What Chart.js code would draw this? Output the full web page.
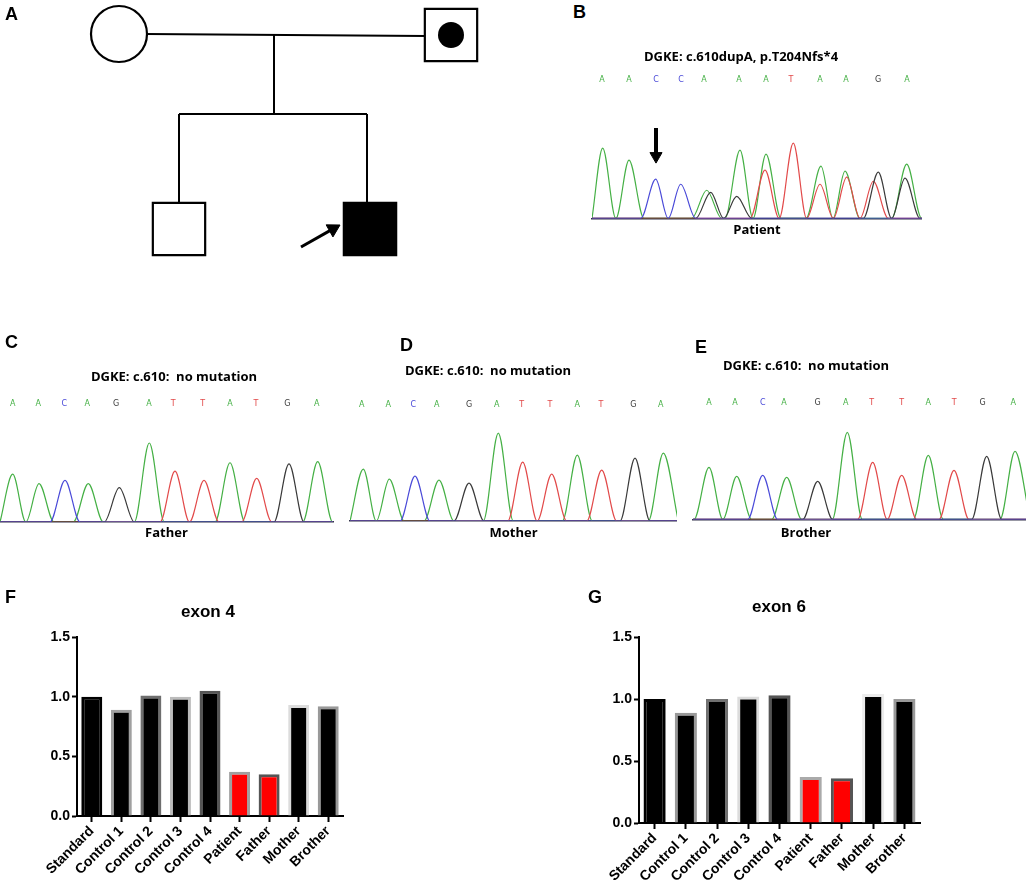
<!DOCTYPE html>
<html lang="en">
<head>
<meta charset="UTF-8">
<title>DGKE c.610dupA - pedigree, Sanger traces and exon dosage</title>
<script src="https://cdn.jsdelivr.net/npm/chart.js"></script>
<style>
  body { margin: 0; background: #fff; }
  #page { position: relative; width: 1026px; height: 893px; overflow: hidden; background: #fff; }
  #page canvas { position: absolute; }
  .tag { position: absolute; font: bold 18px "Liberation Sans", Arial, sans-serif; line-height: 18px; color: #000; }
</style>
</head>
<body>
<div id="page">
  <canvas id="pedigree" width="520" height="290" style="left:0;top:0"></canvas>
  <canvas id="traceB" width="362" height="193" style="left:560px;top:45px"></canvas>
  <canvas id="traceC" width="348" height="176" style="left:0;top:365px"></canvas>
  <canvas id="traceD" width="378" height="181" style="left:299px;top:360px"></canvas>
  <canvas id="traceE" width="440" height="186" style="left:586px;top:355px"></canvas>
  <canvas id="exon4" width="416" height="295" style="left:0;top:598px"></canvas>
  <canvas id="exon6" width="398" height="300" style="left:580px;top:593px"></canvas>

  <div class="tag" style="left:5px;top:5px">A</div>
  <div class="tag" style="left:573px;top:3px">B</div>
  <div class="tag" style="left:5px;top:333px">C</div>
  <div class="tag" style="left:400px;top:336px">D</div>
  <div class="tag" style="left:695px;top:338px">E</div>
  <div class="tag" style="left:5px;top:588px">F</div>
  <div class="tag" style="left:588px;top:588px">G</div>
</div>

<script>
// ---------- A: pedigree (layout units) ----------
const memberNames = ['Mother', 'Father', 'Brother', 'Patient'];
const memberX = [119, 451, 179, 370];
const memberY = [34, 35, 229, 229];
const memberShape = ['circle', 'rect', 'rect', 'rect'];
const memberAffected = [false, false, false, true];
const memberCarrier = [false, true, false, false];
const pedigreeLines = [
    [[146, 34], [426, 36]],   // couple
    [[274, 34], [274, 114]],  // line of descent
    [[179, 114], [367, 114]], // sibship
    [[179, 114], [179, 203]],
    [[367, 114], [367, 203]]
];
const probandArrow = [[301, 247], [340, 225]]; // tail, tip

// ---------- B-E: Sanger traces (scan position, signal) ----------
const refBases = ['A', 'A', 'C', 'A', 'G', 'A', 'T', 'T', 'A', 'T', 'G', 'A'];

const patientBases = ['A', 'A', 'C', 'C', 'A', 'A', 'A', 'T', 'A', 'A', 'G', 'A'];
const patientCalls = [10, 37, 64, 89, 112, 147, 174, 199, 228, 254, 286, 315];
const patientA = [[10.7, 70], [37, 58], [114.7, 28], [148, 68], [174, 64], [229, 52], [253, 47], [314.7, 54]];
const patientC = [[63.7, 39], [88.7, 34]];
const patientG = [[118.7, 26], [144.7, 22], [286.3, 46], [313, 40]];
const patientT = [[173, 48], [201.3, 75], [228, 34], [254.7, 41], [281.3, 37]];
const patientArrow = [64, 90, 55]; // position, top, tip

const fatherCalls = [12.7, 38.3, 64.3, 87.3, 116, 149, 173.3, 202.7, 230, 256, 287.3, 316.7];
const fatherA = [[12.7, 46], [39, 37], [88.3, 37], [149.3, 76], [230, 57], [317.7, 58]];
const fatherC = [[65, 40]];
const fatherG = [[119.3, 33], [289, 56]];
const fatherT = [[175, 49], [204, 40], [256.7, 42]];

const motherCalls = [11.7, 38.3, 63.3, 86.7, 119, 146.7, 171.7, 200, 227.3, 251, 283.3, 310.7];
const motherA = [[13.3, 52], [39.3, 42], [89, 41], [148.3, 88], [227.3, 66], [313.3, 68]];
const motherC = [[65, 45]];
const motherG = [[119, 38], [285, 63]];
const motherT = [[172.7, 59], [201.7, 47], [251.7, 51]];

const brotherCalls = [16, 42, 69.7, 91, 124.7, 152.7, 178.7, 208.7, 235.3, 261.3, 289.7, 320.3];
const brotherA = [[16, 52], [43.7, 43], [93.7, 42], [154.3, 87], [235.3, 64], [322, 68]];
const brotherC = [[69.7, 44]];
const brotherG = [[124.7, 38], [293.7, 63]];
const brotherT = [[179.7, 57], [208.7, 44], [261, 49]];

// ---------- F, G: relative copy number ----------
const samples = ['Standard', 'Control 1', 'Control 2', 'Control 3', 'Control 4', 'Patient', 'Father', 'Mother', 'Brother'];
const exon4Ratio = [1.00, 0.89, 1.01, 1.00, 1.05, 0.37, 0.35, 0.93, 0.92];
const exon6Ratio = [1.00, 0.89, 1.00, 1.02, 1.03, 0.37, 0.36, 1.04, 1.00];

// styles
const baseColor = { A: '#45b045', C: '#4a4ad8', G: '#3a3a3a', T: '#e24a4a' };
const barFill = ['#000', '#000', '#000', '#000', '#000', '#ff0000', '#ff0000', '#000', '#000'];
const exon4Edge = ['#000', '#a0a0a0', '#6e6e6e', '#bcbcbc', '#555', '#a0a0a0', '#555', '#dcdcdc', '#999'];
const exon6Edge = ['#000', '#999', '#707070', '#dcdcdc', '#555', '#aaa', '#555', '#ececec', '#999'];

Chart.defaults.font.family = '"Liberation Sans", Arial, sans-serif';
Chart.defaults.color = '#000';

function spacer(position, width) {
    return {
        type: 'linear', position: position, display: true,
        ticks: { display: false },
        grid: { display: false, drawTicks: false },
        border: { display: false },
        afterFit: s => { s.width = width; }
    };
}

// ---------- pedigree ----------
function drawPedigree() {
    const datasets = [];
    const r = 8;
    const [tail, tip] = probandArrow;
    const dx = tip[0] - tail[0], dy = tip[1] - tail[1];
    const len = Math.hypot(dx, dy);
    const head = { x: tip[0] - r * dx / len, y: tip[1] - r * dy / len };

    datasets.push({
        data: memberCarrier.map((c, i) => c ? { x: memberX[i], y: memberY[i] } : null).filter(Boolean),
        pointStyle: 'circle', pointRadius: 13,
        pointBackgroundColor: '#000', pointBorderWidth: 0, order: 0
    });
    datasets.push({
        label: 'members',
        data: memberX.map((x, i) => ({ x: x, y: memberY[i] })),
        pointStyle: memberShape,
        pointRadius: memberShape.map(s => s === 'circle' ? 28 : 37),
        pointBackgroundColor: memberAffected.map(a => a ? '#000' : '#fff'),
        pointBorderColor: '#000', pointBorderWidth: 2.2, order: 1
    });
    datasets.push({
        data: [head], pointStyle: 'triangle', pointRadius: r,
        pointRotation: Math.atan2(dx, -dy) * 180 / Math.PI,
        pointBackgroundColor: '#000', pointBorderColor: '#000', pointBorderWidth: 1, order: 0
    });
    datasets.push({
        data: [{ x: tail[0], y: tail[1] }, head],
        showLine: true, borderColor: '#000', borderWidth: 3, pointRadius: 0, order: 2
    });
    pedigreeLines.forEach(seg => {
        datasets.push({
            data: seg.map(p => ({ x: p[0], y: p[1] })),
            showLine: true, borderColor: '#000', borderWidth: 2, pointRadius: 0, order: 2
        });
    });

    new Chart(document.getElementById('pedigree'), {
        type: 'scatter',
        data: { datasets: datasets },
        options: {
            responsive: false, animation: false, events: [],
            layout: { padding: 0, autoPadding: false },
            clip: false,
            plugins: { legend: { display: false }, tooltip: { enabled: false } },
            scales: {
                x: { type: 'linear', min: 0, max: 520, display: false },
                y: { type: 'linear', min: 0, max: 290, reverse: true, display: false }
            }
        }
    });
}

// ---------- chromatograms ----------
function peakPoints(peaks, xMax, halfWidth) {
    const sorted = peaks.slice().sort((a, b) => a[0] - b[0]);
    const pts = [{ x: 0, y: 0 }];
    let lastX = 0;
    const add = (x, y) => {
        if (x > lastX) { pts.push({ x: x, y: y }); lastX = x; }
    };
    sorted.forEach(([p, h], i) => {
        const prev = i > 0 ? sorted[i - 1][0] : -Infinity;
        const next = i < sorted.length - 1 ? sorted[i + 1][0] : Infinity;
        add(Math.max(p - halfWidth, (prev + p) / 2), 0);
        add(p, h);
        add(Math.min(p + halfWidth, (p + next) / 2), 0);
    });
    add(xMax, 0);
    return pts;
}

function drawTrace(id, t) {
    const datasets = [];
    if (t.arrow) {
        const [ax, top, tipY] = t.arrow;
        const hr = 7;
        datasets.push({
            data: [{ x: ax, y: tipY + hr }], pointStyle: 'triangle', pointRadius: hr,
            pointRotation: 180, pointBackgroundColor: '#000', pointBorderColor: '#000', pointBorderWidth: 1
        });
        datasets.push({
            data: [{ x: ax, y: top }, { x: ax, y: tipY + hr }],
            showLine: true, borderColor: '#000', borderWidth: 4, pointRadius: 0
        });
    }
    [['C', t.c], ['G', t.g], ['T', t.t], ['A', t.a]].forEach(([b, peaks]) => {
        datasets.push({
            data: peakPoints(peaks, t.xMax, 15),
            showLine: true, fill: false, pointRadius: 0,
            borderColor: baseColor[b], borderWidth: 1.2,
            cubicInterpolationMode: 'monotone'
        });
    });

    const labelFont = { family: '"Open Sans", sans-serif', size: 13, weight: 'bold' };
    const scales = {
        x: {
            type: 'linear', min: 0, max: t.xMax, display: true,
            ticks: { display: false },
            grid: { display: false, drawTicks: false },
            border: { display: true, color: '#33334a', width: 1.5 },
            title: { display: !t.subLabel, text: t.label, color: '#000', font: labelFont, padding: { top: t.labelPad, bottom: 0 } }
        },
        y: { type: 'linear', min: 0, max: t.yMax, display: false },
        calls: {
            type: 'linear', position: 'top', min: 0, max: t.xMax,
            afterBuildTicks: s => { s.ticks = t.calls.map(v => ({ value: v })); },
            grid: { display: false, drawTicks: false },
            border: { display: false },
            ticks: {
                autoSkip: false, maxRotation: 0, minRotation: 0, padding: 2,
                font: { family: '"DejaVu Sans", sans-serif', size: 8 },
                color: c => baseColor[t.bases[c.index]],
                callback: (v, i) => t.bases[i]
            }
        }
    };
    if (t.padLeft) scales.padL = spacer('left', t.padLeft);
    if (t.padRight) scales.padR = spacer('right', t.padRight);

    new Chart(document.getElementById(id), {
        type: 'scatter',
        data: { datasets: datasets },
        options: {
            responsive: false, animation: false, events: [],
            layout: { padding: 0, autoPadding: false },
            plugins: {
                legend: { display: false }, tooltip: { enabled: false },
                title: {
                    display: true, text: t.title, color: '#000', font: labelFont,
                    padding: { top: t.titleTop, bottom: t.titleBottom }
                },
                subtitle: {
                    display: !!t.subLabel, text: t.label, position: 'bottom', color: '#000', font: labelFont,
                    padding: { top: t.labelPad, bottom: 0 }
                }
            },
            scales: scales
        }
    });
}

// ---------- bar charts ----------
function drawBars(id, values, edges, t) {
    const tickFont = { family: '"Liberation Sans", Arial, sans-serif', size: 14, weight: 'bold' };
    new Chart(document.getElementById(id), {
        type: 'bar',
        data: {
            labels: samples,
            datasets: [{
                data: values,
                backgroundColor: barFill,
                borderColor: edges,
                borderWidth: 3,
                borderSkipped: 'start',
                barPercentage: 0.71,
                categoryPercentage: 1
            }]
        },
        options: {
            responsive: false, animation: false, events: [],
            layout: { padding: 0 },
            plugins: {
                legend: { display: false }, tooltip: { enabled: false },
                title: {
                    display: true, text: t.title, color: '#000',
                    font: { family: '"Liberation Sans", Arial, sans-serif', size: 17, weight: 'bold' },
                    padding: { top: t.titleTop, bottom: t.titleBottom }
                }
            },
            scales: {
                x: {
                    grid: { display: true, drawOnChartArea: false, offset: false, drawTicks: true, tickLength: 6, tickWidth: 2, tickColor: '#000' },
                    border: { display: true, color: '#000', width: 2 },
                    ticks: { autoSkip: false, maxRotation: 45, minRotation: 45, padding: 1, color: '#000', font: tickFont },
                    afterFit: s => { s.height = t.xAxisH; }
                },
                y: {
                    min: 0, max: 1.5,
                    grid: { display: true, drawOnChartArea: false, drawTicks: true, tickLength: 5, tickWidth: 2, tickColor: '#000' },
                    border: { display: true, color: '#000', width: 2 },
                    ticks: { stepSize: 0.5, padding: 2, color: '#000', font: tickFont, callback: v => v.toFixed(1) },
                    afterFit: s => { s.width = t.yAxisW; }
                },
                padR: spacer('right', t.padRight)
            }
        }
    });
}

drawPedigree();

drawTrace('traceB', {
    title: 'DGKE: c.610dupA, p.T204Nfs*4', label: 'Patient',
    bases: patientBases, calls: patientCalls,
    a: patientA, c: patientC, g: patientG, t: patientT, arrow: patientArrow,
    xMax: 330, yMax: 131, padLeft: 32, padRight: 0,
    titleTop: 4, titleBottom: 8.6, labelPad: 4
});
drawTrace('traceC', {
    title: 'DGKE: c.610:  no mutation', label: 'Father',
    bases: refBases, calls: fatherCalls,
    a: fatherA, c: fatherC, g: fatherG, t: fatherT,
    xMax: 333, yMax: 107, padLeft: 0, padRight: 15,
    titleTop: 4, titleBottom: 12.6, labelPad: 3.4
});
drawTrace('traceD', {
    title: 'DGKE: c.610:  no mutation', label: 'Mother',
    bases: refBases, calls: motherCalls,
    a: motherA, c: motherC, g: motherG, t: motherT,
    xMax: 327, yMax: 109, padLeft: 51, padRight: 0,
    titleTop: 3.9, titleBottom: 19, labelPad: 4.4
});
drawTrace('traceE', {
    title: 'DGKE: c.610:  no mutation', label: 'Brother', subLabel: true,
    bases: refBases, calls: brotherCalls,
    a: brotherA, c: brotherC, g: brotherG, t: brotherT,
    xMax: 333, yMax: 109.5, padLeft: 107, padRight: 0,
    titleTop: 3.9, titleBottom: 21.7, labelPad: 6
});

drawBars('exon4', exon4Ratio, exon4Edge, {
    title: 'exon 4', titleTop: 3.8, titleBottom: 14.8, xAxisH: 77, yAxisW: 77, padRight: 73
});
drawBars('exon6', exon6Ratio, exon6Edge, {
    title: 'exon 6', titleTop: 3.8, titleBottom: 19.8, xAxisH: 70, yAxisW: 59, padRight: 58
});
</script>
</body>
</html>
